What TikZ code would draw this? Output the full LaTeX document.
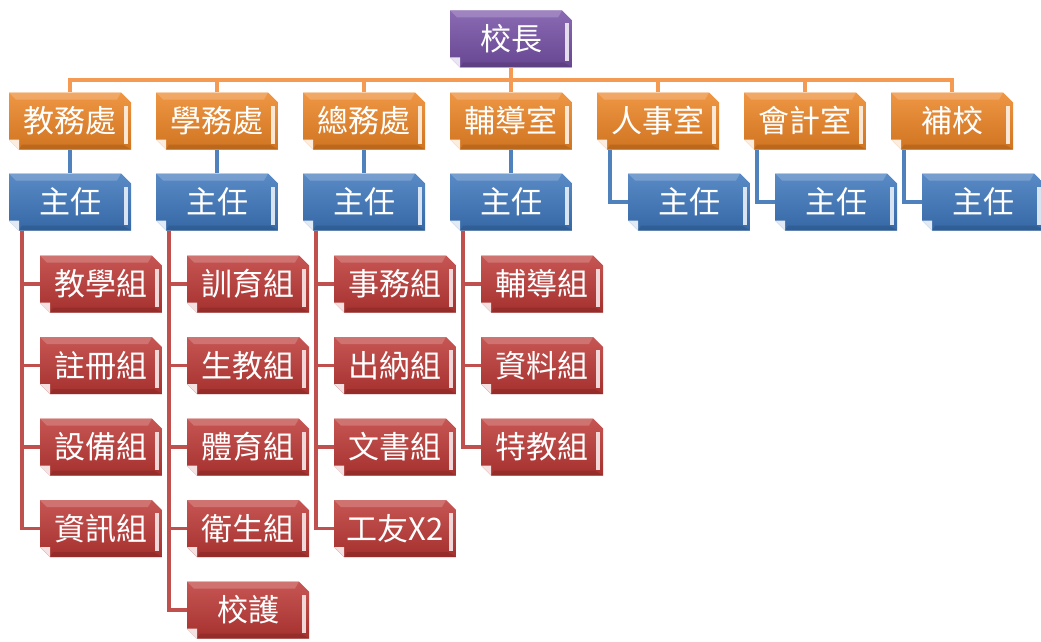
\documentclass[tikz,border=0pt]{standalone}
\usepackage{fontspec}
\newfontfamily\cjk{Noto Sans CJK TC}
\usepackage{tikz}
\usetikzlibrary{positioning}

\definecolor{principalpurple}{HTML}{7650A6}
\definecolor{officeorange}{HTML}{EC8424}
\definecolor{directorblue}{HTML}{3C76BC}
\definecolor{teamred}{HTML}{BC3835}
\definecolor{busorange}{HTML}{F59A52}
\definecolor{linkblue}{HTML}{4F81BD}
\definecolor{linkred}{HTML}{C0504D}

\begin{document}
\begin{tikzpicture}[
        x=1pt,
        y=-1pt,
        block/.style={
            rectangle,
            minimum width=122pt,
            minimum height=57pt,
            inner sep=0pt,
            text=white,
            font=\cjk\fontsize{31}{31}\selectfont,
            path picture={
                \shade [top color=#1!85!white, bottom color=#1!88!black]
                    (path picture bounding box.north west)
                    -- ([xshift=-10pt]path picture bounding box.north east)
                    -- ([yshift=-10pt]path picture bounding box.north east)
                    -- (path picture bounding box.south east)
                    -- ([xshift=10pt]path picture bounding box.south west)
                    -- ([yshift=10pt]path picture bounding box.south west)
                    -- cycle;
                \fill [#1!60!white, opacity=0.6]
                    (path picture bounding box.north west)
                    -- ([xshift=-10pt]path picture bounding box.north east)
                    -- ([xshift=-14pt,yshift=-7pt]path picture bounding box.north east)
                    -- ([xshift=7pt,yshift=-7pt]path picture bounding box.north west)
                    -- cycle;
                \fill [#1!70!black, opacity=0.5]
                    ([xshift=10pt]path picture bounding box.south west)
                    -- (path picture bounding box.south east)
                    -- ([xshift=-8pt,yshift=5pt]path picture bounding box.south east)
                    -- ([xshift=13pt,yshift=5pt]path picture bounding box.south west)
                    -- cycle;
                \fill [white!80!#1]
                    ([xshift=-7pt,yshift=-13pt]path picture bounding box.north east)
                    rectangle ([xshift=-3pt,yshift=6pt]path picture bounding box.south east);
                \fill [white!85!#1]
                    ([yshift=10pt]path picture bounding box.south west)
                    -- ([xshift=10pt]path picture bounding box.south west)
                    -- ([xshift=10pt,yshift=10pt]path picture bounding box.south west)
                    -- cycle;
            }
        },
        busline/.style={draw=busorange, line width=3.5pt},
        blueline/.style={draw=linkblue, line width=3.5pt},
        redline/.style={draw=linkred, line width=3.5pt},
      ]
        \useasboundingbox (0,0) rectangle (1041,642);

        % connectors
        \coordinate (bus) at (511,80);
        \node [block=principalpurple] (principal) at (511,39) {校長};
        \node [block=officeorange] (office-jiaowu) at (70,121) {教務處};
        \node [block=officeorange] (office-xuewu) at (217,121) {學務處};
        \node [block=officeorange] (office-zongwu) at (364,121) {總務處};
        \node [block=officeorange] (office-fudao) at (511,121) {輔導室};
        \node [block=officeorange] (office-renshi) at (658,121) {人事室};
        \node [block=officeorange] (office-kuaiji) at (805,121) {會計室};
        \node [block=officeorange] (office-buxiao) at (952,121) {補校};

        \path [busline] (principal) -- (bus);
        \path [busline] (bus) -| (office-jiaowu);
        \path [busline] (bus) -| (office-xuewu);
        \path [busline] (bus) -| (office-zongwu);
        \path [busline] (bus) -- (office-fudao);
        \path [busline] (bus) -| (office-renshi);
        \path [busline] (bus) -| (office-kuaiji);
        \path [busline] (bus) -| (office-buxiao);

        \node [block=directorblue] (director-jiaowu) at (70,202) {主任};
        \node [block=directorblue] (director-xuewu) at (217,202) {主任};
        \node [block=directorblue] (director-zongwu) at (364,202) {主任};
        \node [block=directorblue] (director-fudao) at (511,202) {主任};
        \node [block=directorblue] (director-renshi) at (689,202) {主任};
        \node [block=directorblue] (director-kuaiji) at (836,202) {主任};
        \node [block=directorblue] (director-buxiao) at (983,202) {主任};

        \path [blueline] (office-jiaowu) -- (director-jiaowu);
        \path [blueline] (office-xuewu) -- (director-xuewu);
        \path [blueline] (office-zongwu) -- (director-zongwu);
        \path [blueline] (office-fudao) -- (director-fudao);
        \path [blueline] ([xshift=13pt]office-renshi.south west) |- (director-renshi);
        \path [blueline] ([xshift=13pt]office-kuaiji.south west) |- (director-kuaiji);
        \path [blueline] ([xshift=13pt]office-buxiao.south west) |- (director-buxiao);

        % teams
        \node [block=teamred] (team-jiaoxue) at (101,284) {教學組};
        \node [block=teamred] (team-zhuce) at (101,365.5) {註冊組};
        \node [block=teamred] (team-shebei) at (101,447) {設備組};
        \node [block=teamred] (team-zixun) at (101,528.5) {資訊組};
        \node [block=teamred] (team-xunyu) at (248,284) {訓育組};
        \node [block=teamred] (team-shengjiao) at (248,365.5) {生教組};
        \node [block=teamred] (team-tiyu) at (248,447) {體育組};
        \node [block=teamred] (team-weisheng) at (248,528.5) {衛生組};
        \node [block=teamred] (team-xiaohu) at (248,610) {校護};
        \node [block=teamred] (team-shiwu) at (395,284) {事務組};
        \node [block=teamred] (team-chuna) at (395,365.5) {出納組};
        \node [block=teamred] (team-wenshu) at (395,447) {文書組};
        \node [block=teamred] (team-gongyou) at (395,528.5) {工友X2};
        \node [block=teamred] (team-fudao) at (542,284) {輔導組};
        \node [block=teamred] (team-ziliao) at (542,365.5) {資料組};
        \node [block=teamred] (team-tejiao) at (542,447) {特教組};

        \path [redline] ([xshift=13pt]director-jiaowu.south west) |- (team-jiaoxue);
        \path [redline] ([xshift=13pt]director-jiaowu.south west) |- (team-zhuce);
        \path [redline] ([xshift=13pt]director-jiaowu.south west) |- (team-shebei);
        \path [redline] ([xshift=13pt]director-jiaowu.south west) |- (team-zixun);
        \path [redline] ([xshift=13pt]director-xuewu.south west) |- (team-xunyu);
        \path [redline] ([xshift=13pt]director-xuewu.south west) |- (team-shengjiao);
        \path [redline] ([xshift=13pt]director-xuewu.south west) |- (team-tiyu);
        \path [redline] ([xshift=13pt]director-xuewu.south west) |- (team-weisheng);
        \path [redline] ([xshift=13pt]director-xuewu.south west) |- (team-xiaohu);
        \path [redline] ([xshift=13pt]director-zongwu.south west) |- (team-shiwu);
        \path [redline] ([xshift=13pt]director-zongwu.south west) |- (team-chuna);
        \path [redline] ([xshift=13pt]director-zongwu.south west) |- (team-wenshu);
        \path [redline] ([xshift=13pt]director-zongwu.south west) |- (team-gongyou);
        \path [redline] ([xshift=13pt]director-fudao.south west) |- (team-fudao);
        \path [redline] ([xshift=13pt]director-fudao.south west) |- (team-ziliao);
        \path [redline] ([xshift=13pt]director-fudao.south west) |- (team-tejiao);
      \end{tikzpicture}
\end{document}
